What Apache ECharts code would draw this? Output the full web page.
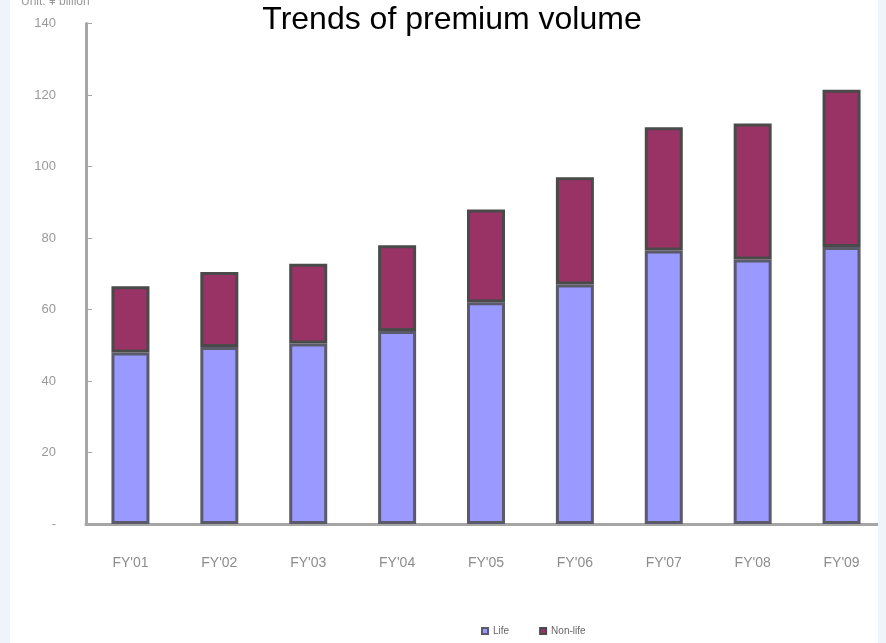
<!DOCTYPE html>
<html>
<head>
<meta charset="utf-8">
<script src="https://cdn.jsdelivr.net/npm/echarts@6/dist/echarts.min.js"></script>
<style>
  html, body { margin: 0; padding: 0; background: #ffffff; }
  #chart { width: 886px; height: 643px; }
  .strip { position: absolute; top: 0; bottom: 0; background: #eef4fa; }
</style>
</head>
<body>
<div id="chart"></div>
<div class="strip" style="left:0;width:10px;top:0;height:643px;"></div>
<div class="strip" style="left:878px;width:8px;top:0;height:643px;"></div>
<script>
// Fiscal years shown on the category axis
const categories = ["FY'01", "FY'02", "FY'03", "FY'04", "FY'05", "FY'06", "FY'07", "FY'08", "FY'09"];
// Premium volume by line of business (stacked)
const lifeValues = [48, 49.5, 50.5, 54, 62, 67, 76.5, 74, 77.5];
const nonLifeValues = [18.5, 21, 22.3, 24, 26, 30, 34.5, 38, 44];
// Value axis range
const yMin = 0, yMax = 140, yStep = 20;
const seriesNames = ['Life', 'Non-life'];

const chart = echarts.init(document.getElementById('chart'));
chart.setOption({
  animation: false,
  backgroundColor: '#ffffff',
  title: [{
    text: 'Trends of premium volume',
    left: 447, top: -1, textAlign: 'center',
    textStyle: { fontFamily: 'Liberation Sans, Arial, sans-serif', fontSize: 32, fontWeight: 'normal', color: '#000' }
  }, {
    text: 'Unit: \u00a5 billion',
    left: 16, top: -9,
    textStyle: { fontFamily: 'Liberation Sans, Arial, sans-serif', fontSize: 12, fontWeight: 'normal', color: '#999' }
  }],
  legend: {
    data: seriesNames,
    bottom: 2, left: 476,
    itemWidth: 6, itemHeight: 6, itemGap: 30,
    icon: 'rect',
    textStyle: { fontSize: 10, color: '#666', fontFamily: 'Liberation Sans, Arial, sans-serif' }
  },
  grid: { left: 86, right: -4, top: 23.5, bottom: 119, containLabel: false },
  xAxis: {
    type: 'category',
    data: categories,
    axisLine: { lineStyle: { color: '#a6a6a6', width: 3 } },
    axisTick: { inside: true, length: 6, lineStyle: { color: '#a6a6a6', width: 1 } },
    axisLabel: { margin: 32, color: '#8c8c8c', fontSize: 14, fontFamily: 'Liberation Sans, Arial, sans-serif' }
  },
  yAxis: {
    type: 'value', min: yMin, max: yMax, interval: yStep,
    axisLine: { show: true, lineStyle: { color: '#a6a6a6', width: 3 } },
    axisTick: { show: true, inside: true, length: 6, lineStyle: { color: '#a6a6a6', width: 1 } },
    splitLine: { show: false },
    axisLabel: {
      margin: 30, color: '#999', fontSize: 13, fontFamily: 'Liberation Sans, Arial, sans-serif',
      formatter: v => (v === 0 ? '-' : String(v))
    }
  },
  series: [{
    name: seriesNames[0], type: 'bar', stack: 'total', data: lifeValues,
    barWidth: 38,
    itemStyle: { color: '#9999ff', borderColor: '#5a5a6a', borderWidth: 3 }
  }, {
    name: seriesNames[1], type: 'bar', stack: 'total', data: nonLifeValues,
    barWidth: 38,
    itemStyle: { color: '#993366', borderColor: '#4a4a4a', borderWidth: 3 }
  }]
});
</script>
</body>
</html>
